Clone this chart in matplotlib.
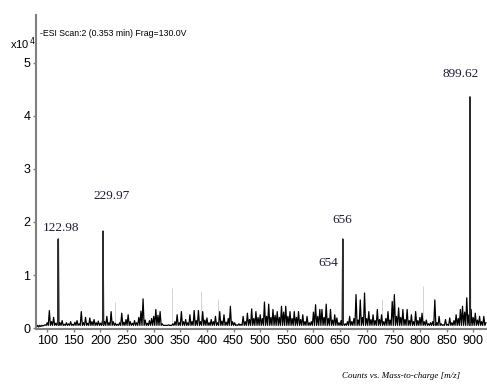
import numpy as np
import matplotlib
matplotlib.use("Agg")
import matplotlib.pyplot as plt

# baseline noise, one reading every 4 m/z starting at 80
noise_start = 80
noise_step = 4
noise = [
    0.02, 0.02, 0.03, 0.04, 0.06,
    0.10, 0.33, 0.12, 0.20, 0.09, 0.15, 0.10, 0.14, 0.07, 0.10, 0.08, 0.12, 0.07,
    0.11, 0.14, 0.08, 0.31, 0.10, 0.20, 0.09, 0.19, 0.12, 0.16, 0.10, 0.13, 0.09,
    0.14, 0.12, 0.22, 0.10, 0.31, 0.12, 0.09, 0.07, 0.10, 0.28, 0.11, 0.16, 0.25,
    0.12, 0.09, 0.14, 0.10, 0.20, 0.32, 0.55, 0.15, 0.09, 0.14, 0.18, 0.22, 0.35,
    0.24, 0.31, 0.08, 0.05, 0.05, 0.06, 0.05, 0.08, 0.12, 0.25, 0.10, 0.31, 0.12,
    0.16, 0.10, 0.25, 0.12, 0.33, 0.14, 0.33, 0.12, 0.31, 0.15, 0.19, 0.10, 0.16,
    0.12, 0.22, 0.10, 0.31, 0.13, 0.25, 0.11, 0.18, 0.41, 0.12, 0.10, 0.06, 0.08,
    0.07, 0.22, 0.12, 0.28, 0.16, 0.36, 0.18, 0.31, 0.20, 0.25, 0.18, 0.49, 0.22,
    0.45, 0.20, 0.35, 0.24, 0.31, 0.20, 0.41, 0.30, 0.41, 0.22, 0.31, 0.18, 0.31,
    0.20, 0.31, 0.16, 0.25, 0.12, 0.22, 0.10, 0.12, 0.30, 0.44, 0.22, 0.35, 0.35,
    0.20, 0.45, 0.18, 0.35, 0.15, 0.25, 0.19, 0.10, 0.14, 0.12, 0.08, 0.12, 0.22,
    0.12, 0.18, 0.63, 0.15, 0.53, 0.20, 0.66, 0.18, 0.31, 0.16, 0.25, 0.14, 0.35,
    0.16, 0.25, 0.12, 0.18, 0.31, 0.15, 0.50, 0.63, 0.22, 0.38, 0.20, 0.35, 0.16,
    0.35, 0.14, 0.25, 0.12, 0.31, 0.14, 0.20, 0.28, 0.12, 0.15, 0.08, 0.10, 0.12,
    0.53, 0.10, 0.22, 0.08, 0.06, 0.16, 0.07, 0.19, 0.10, 0.14, 0.25, 0.18, 0.35,
    0.41, 0.30, 0.57, 0.25, 0.35, 0.20, 0.28, 0.15, 0.22, 0.12, 0.22, 0.10,
]

# main peaks (drawn position, height in x10^4 counts)
peak_mz = [121, 205, 655, 894]
peak_h = [1.68, 1.83, 1.68, 4.36]

# peak labels as printed
labels = ["122.98", "229.97", "656", "654", "899.62"]
label_mz = [126, 220, 655, 628, 877]
label_y = [1.83, 2.43, 1.98, 1.17, 4.74]

# faint grey traces above the noise
faint_mz = [227, 335, 388, 421, 728, 806]
faint_h = [0.5, 0.75, 0.7, 0.55, 0.55, 0.8]

narrow = ["Liberation Sans Narrow", "Liberation Sans", "DejaVu Sans"]
serif = ["Liberation Serif", "DejaVu Serif"]
valley = 0.05

nx = noise_start + noise_step * np.arange(len(noise))
xs = list(nx) + list(nx[:-1] + noise_step / 2)
ys = list(noise) + [valley] * (len(nx) - 1)
for m, h in zip(peak_mz, peak_h):
    xs += [m - 1, m, m + 1]
    ys += [0.1, h, 0.1]
order = np.argsort(xs, kind="stable")
xs = np.array(xs)[order]
ys = np.array(ys)[order]

fig = plt.figure(figsize=(4.87, 3.89), dpi=100)
ax = fig.add_axes([0.074, 0.154, 0.926, 0.807])

ax.vlines(faint_mz, 0.05, faint_h, color="#d4d4d4", lw=0.7)
ax.plot(xs, ys, color="black", lw=0.9)
ax.vlines(peak_mz, 0.05, peak_h, color="#303030", lw=1.3)

for t, m, y in zip(labels, label_mz, label_y):
    ax.text(m, y, t, ha="center", va="baseline", fontsize=9.5,
            family=serif, color="#1c1c38")

ax.set_xlim(79, 926)
ax.set_ylim(-0.02, 5.9)
ax.set_xticks(range(100, 901, 50))
ax.set_yticks(range(0, 6))
ax.tick_params(direction="out", length=2, width=1, color="#808080",
               labelsize=9, pad=2)
for lab in ax.get_xticklabels() + ax.get_yticklabels():
    lab.set_family(narrow)

for s in ["top", "right"]:
    ax.spines[s].set_visible(False)
for s in ["left", "bottom"]:
    ax.spines[s].set_color("#808080")
    ax.spines[s].set_linewidth(1.5)

fig.text(0.083, 0.915, "-ESI Scan:2 (0.353 min) Frag=130.0V", fontsize=6.3,
         family=narrow, va="center")
fig.text(0.02, 0.887, r"x10$^{\,4}$", fontsize=8, family=narrow, va="center")
fig.text(0.823, 0.033, "Counts vs. Mass-to-charge [m/z]", fontsize=6.5,
         family=serif, style="italic", ha="center", va="center")

fig.savefig("out.png", dpi=100)
